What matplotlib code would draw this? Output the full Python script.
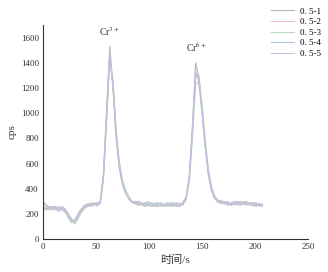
import matplotlib
matplotlib.use("Agg")
import matplotlib.pyplot as plt

plt.rcParams['font.family'] = ['Liberation Serif', 'Noto Sans CJK SC']
plt.rcParams['mathtext.fontset'] = 'stix'

time_s = list(range(0, 208, 3))

s1 = [300, 270, 250, 240, 260, 240, 250, 220, 170, 130, 140, 190, 230, 260, 280, 270, 280, 270, 300, 520,
      1020, 1530, 1220, 820, 570, 440, 370, 320, 300, 280, 270, 280, 260, 270, 280, 270, 260, 270, 280, 260,
      270, 280, 260, 270, 290, 330, 500, 900, 1400, 1280, 1020, 740, 520, 390, 330, 300, 300, 280, 290, 270,
      280, 300, 290, 280, 270, 290, 280, 270, 280, 270]
s2 = [260, 240, 230, 250, 230, 250, 240, 230, 190, 150, 130, 170, 220, 250, 270, 290, 270, 290, 280, 480,
      960, 1460, 1250, 860, 600, 460, 380, 330, 300, 290, 300, 270, 280, 300, 270, 260, 280, 260, 270, 290,
      260, 270, 280, 260, 280, 320, 470, 840, 1280, 1310, 1060, 780, 540, 400, 340, 310, 280, 300, 280, 290,
      270, 280, 300, 290, 270, 280, 260, 280, 270, 280]
s3 = [280, 260, 240, 230, 250, 260, 230, 210, 180, 140, 120, 160, 210, 240, 260, 280, 290, 260, 290, 460,
      930, 1420, 1270, 880, 620, 470, 390, 340, 300, 280, 290, 280, 270, 260, 280, 290, 270, 260, 270, 280,
      290, 260, 270, 280, 280, 310, 450, 800, 1230, 1250, 1080, 800, 560, 420, 340, 300, 310, 290, 270, 280,
      290, 270, 280, 300, 280, 270, 290, 280, 260, 270]
s4 = [250, 230, 260, 250, 240, 220, 240, 230, 200, 160, 140, 180, 230, 270, 260, 270, 280, 290, 290, 500,
      990, 1480, 1190, 800, 560, 430, 360, 320, 290, 300, 280, 270, 290, 280, 260, 270, 290, 280, 260, 270,
      280, 290, 270, 260, 290, 330, 490, 880, 1330, 1250, 1000, 730, 510, 380, 320, 300, 290, 280, 300, 270,
      280, 290, 270, 280, 290, 280, 270, 260, 280, 270]
s5 = [240, 250, 240, 260, 250, 230, 260, 240, 200, 150, 150, 200, 240, 250, 270, 260, 270, 280, 280, 490,
      970, 1440, 1230, 840, 590, 450, 370, 320, 290, 280, 300, 290, 270, 280, 290, 260, 270, 290, 270, 280,
      270, 260, 290, 280, 270, 320, 480, 860, 1300, 1280, 1040, 760, 530, 400, 330, 290, 290, 300, 270, 280,
      300, 280, 270, 290, 300, 270, 280, 290, 270, 260]

series = [s1, s2, s3, s4, s5]
labels = ['0. 5-1', '0. 5-2', '0. 5-3', '0. 5-4', '0. 5-5']
colors = ['#b4b4b4', '#e9bcc6', '#b9d9bd', '#aac6e2', '#c9bddc']

fig = plt.figure(figsize=(3.28, 2.72), dpi=100)
ax = fig.add_axes([0.131, 0.121, 0.808, 0.787])
lines = []
for y, lab, c in zip(series, labels, colors):
    l, = ax.plot(time_s, y, color=c, lw=0.8, label=lab)
    lines.append(l)

ax.set_xlim(0, 250)
ax.set_ylim(0, 1700)
ax.set_xticks([0, 50, 100, 150, 200, 250])
ax.set_yticks(range(0, 1601, 200))
for s in ['top', 'right']:
    ax.spines[s].set_visible(False)
for s in ['left', 'bottom']:
    ax.spines[s].set_linewidth(0.8)
    ax.spines[s].set_color('#333333')
ax.tick_params(labelsize=6.5, length=0, pad=3, colors='#333333')
ax.set_xlabel('时间/s', fontsize=8, labelpad=2, color='#333333')
ax.set_ylabel('cps', fontsize=8, labelpad=3, color='#333333')

ax.text(63, 1600, 'Cr$^{3+}$', fontsize=7, ha='center', va='bottom', color='#333333')
ax.text(145, 1470, 'Cr$^{6+}$', fontsize=7, ha='center', va='bottom', color='#333333')

fig.legend(handles=lines, labels=labels,
           loc='upper right', bbox_to_anchor=(1.0, 1.0), frameon=False, fontsize=6.5,
           handlelength=2.6, labelspacing=0.25, handletextpad=0.6, borderpad=0.3)

fig.savefig('out.png', dpi=100)
